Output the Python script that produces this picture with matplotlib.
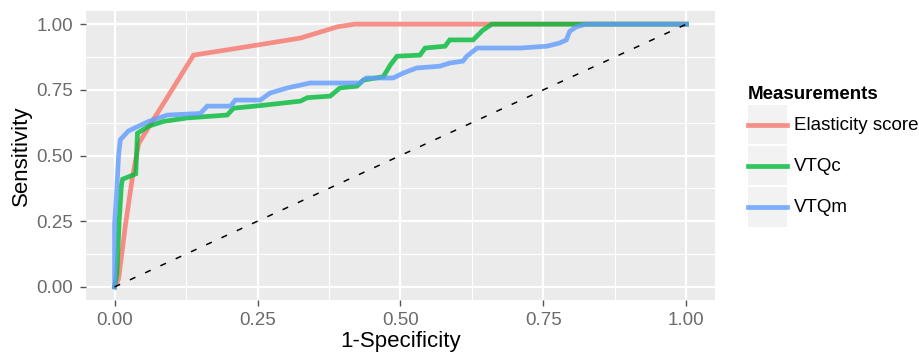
import matplotlib
matplotlib.use("Agg")
from matplotlib import pyplot as plt
from matplotlib.legend_handler import HandlerLine2D
from matplotlib.lines import Line2D
from matplotlib.patches import Rectangle
from matplotlib.ticker import MultipleLocator

plt.rcParams['font.family'] = ['Liberation Sans', 'DejaVu Sans']

# ROC curves (x = 1-specificity, y = sensitivity)
elast_x = [0.0, 0.007, 0.019, 0.031, 0.042, 0.063, 0.089, 0.138, 0.237, 0.325, 0.39, 0.42, 1.0]
elast_y = [0.0, 0.03, 0.236, 0.414, 0.545, 0.62, 0.71, 0.882, 0.916, 0.947, 0.99, 1.0, 1.0]

vtqc_x = [0.0, 0.004, 0.008, 0.012, 0.014, 0.037, 0.04, 0.06, 0.086, 0.127, 0.197, 0.208, 0.255,
          0.325, 0.337, 0.377, 0.394, 0.424, 0.435, 0.47, 0.482, 0.494, 0.534, 0.543, 0.578,
          0.586, 0.627, 0.644, 0.66, 1.0]
vtqc_y = [0.0, 0.05, 0.25, 0.39, 0.41, 0.43, 0.585, 0.612, 0.63, 0.643, 0.654, 0.68, 0.69,
          0.707, 0.72, 0.726, 0.757, 0.764, 0.787, 0.80, 0.844, 0.878, 0.882, 0.909, 0.916,
          0.94, 0.94, 0.977, 1.0, 1.0]

vtqm_x = [0.0, 0.0, 0.004, 0.007, 0.01, 0.024, 0.042, 0.06, 0.092, 0.15, 0.162, 0.203, 0.211,
          0.255, 0.272, 0.302, 0.342, 0.429, 0.44, 0.487, 0.505, 0.528, 0.569, 0.586, 0.609,
          0.616, 0.634, 0.709, 0.756, 0.778, 0.79, 0.796, 0.808, 0.825, 1.0]
vtqm_y = [0.0, 0.24, 0.376, 0.5, 0.56, 0.593, 0.612, 0.63, 0.654, 0.66, 0.688, 0.688, 0.711,
          0.711, 0.738, 0.757, 0.776, 0.776, 0.795, 0.795, 0.814, 0.833, 0.84, 0.852, 0.859,
          0.878, 0.909, 0.909, 0.916, 0.928, 0.94, 0.973, 0.99, 1.0, 1.0]

labels = ['Elasticity score', 'VTQc', 'VTQm']
colors = ['#F8766D', '#00BA38', '#619CFF']
ticks = [0.0, 0.25, 0.5, 0.75, 1.0]


class KeyHandler(HandlerLine2D):
    # grey key box behind each legend line, like ggplot
    def create_artists(self, legend, orig_handle, xdescent, ydescent, width, height, fontsize, trans):
        bg = Rectangle((-xdescent, -ydescent), width, height, facecolor='#F2F2F2',
                       edgecolor='none', transform=trans)
        arts = super().create_artists(legend, orig_handle, xdescent, ydescent, width, height,
                                      fontsize, trans)
        mid = height / 2 - ydescent
        for a in arts:
            a.set_ydata([mid] * len(a.get_xdata()))
        return [bg] + list(arts)


fig = plt.figure(figsize=(9.2, 3.6), dpi=100)
ax = fig.add_axes([86 / 920, 60 / 360, 629 / 920, 289 / 360])
ax.set_facecolor('#EBEBEB')
for s in ax.spines.values():
    s.set_visible(False)

ax.set_xlim(-0.05, 1.05)
ax.set_ylim(-0.05, 1.05)
ax.xaxis.set_minor_locator(MultipleLocator(0.125))
ax.yaxis.set_minor_locator(MultipleLocator(0.125))
ax.set_xticks(ticks)
ax.set_yticks(ticks)
ax.set_xticklabels(['%.2f' % t for t in ticks])
ax.set_yticklabels(['%.2f' % t for t in ticks])
ax.grid(which='major', color='white', linewidth=1.6)
ax.grid(which='minor', color='white', linewidth=0.8)
ax.set_axisbelow(True)
ax.tick_params(which='major', length=4.3, width=1, color='#555555', labelcolor='#6B6B6B',
               labelsize=13.5)
ax.tick_params(axis='x', pad=4.5)
ax.tick_params(axis='y', pad=5)
ax.tick_params(which='minor', length=0)

handles = []
for xs, ys, lab, c in zip([elast_x, vtqc_x, vtqm_x], [elast_y, vtqc_y, vtqm_y], labels, colors):
    ax.plot(xs, ys, color=c, lw=3.4, alpha=0.8, solid_joinstyle='miter')
    handles.append(Line2D([], [], color=c, lw=3.4, alpha=0.8))

ax.plot([0, 1], [0, 1], color='black', lw=1.1, dashes=(4, 7))

ax.set_xlabel('1-Specificity', fontsize=16, labelpad=1.5)
ax.set_ylabel('Sensitivity', fontsize=16, labelpad=3)

leg = fig.legend(handles, labels, loc='upper left', bbox_to_anchor=(748 / 920, 1 - 86 / 360),
                 frameon=False, fontsize=13.5, title='Measurements',
                 title_fontproperties={'weight': 'bold', 'size': 13.5}, alignment='left',
                 handlelength=2.1, handleheight=2.85, labelspacing=0.1, handletextpad=0.35,
                 borderpad=0, borderaxespad=0,
                 handler_map={Line2D: KeyHandler()})

fig.savefig('out.png', dpi=100)
